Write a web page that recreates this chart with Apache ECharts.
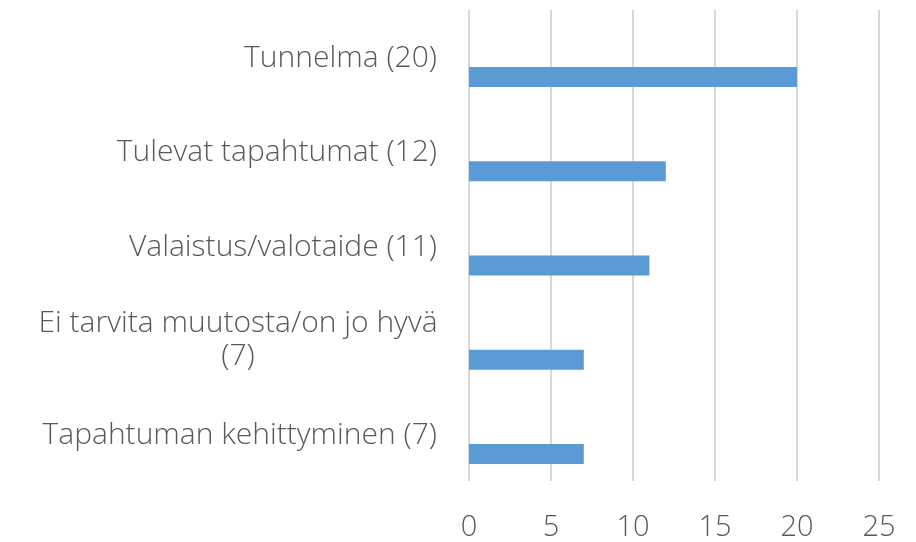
<!DOCTYPE html>
<html>
<head>
<meta charset="utf-8">
<script src="https://cdn.jsdelivr.net/npm/echarts@6/dist/echarts.min.js"></script>
<style>
  html, body { margin: 0; padding: 0; background: #fff; }
  #chart { width: 916px; height: 542px; }
</style>
</head>
<body>
<div id="chart"></div>
<script>
// kategoriat ylhäältä alas
const categories = [
    'Tunnelma (20)',
    'Tulevat tapahtumat (12)',
    'Valaistus/valotaide (11)',
    'Ei tarvita muutosta/on jo hyvä\n(7)',
    'Tapahtuman kehittyminen (7)'
];
const values = [20, 12, 11, 7, 7];
// tyhjä sarja, joka siirtää palkit kaistan alaosaan (kuten Excelissä)
const emptyValues = [null, null, null, null, null];
const xTicks = [0, 5, 10, 15, 20, 25];

const textColor = '#595959';
const fontFamily = '"Open Sans", Roboto, sans-serif';

const chart = echarts.init(document.getElementById('chart'), null, { renderer: 'canvas' });

chart.setOption({
    animation: false,
    grid: {
        left: 469,
        right: 37,
        top: 10,
        bottom: 56,
        containLabel: false
    },
    xAxis: {
        type: 'value',
        min: xTicks[0],
        max: xTicks[xTicks.length - 1],
        interval: xTicks[1] - xTicks[0],
        axisLine: { show: false },
        axisTick: { show: false },
        splitLine: { show: true, lineStyle: { color: '#d9d9d9', width: 2 } },
        axisLabel: {
            color: textColor,
            fontFamily: fontFamily,
            fontWeight: 300,
            fontSize: 29,
            margin: 32
        }
    },
    yAxis: {
        type: 'category',
        inverse: true,
        data: categories,
        axisLine: { show: false },
        axisTick: { show: false },
        axisLabel: {
            color: textColor,
            fontFamily: fontFamily,
            fontWeight: 300,
            fontSize: 30,
            lineHeight: 33,
            margin: 32,
            align: 'right',
            formatter: function (value) {
                if (value.indexOf('\n') >= 0) {
                    return value.split('\n').map(s => '{c|' + s + '}').join('\n');
                }
                return '{n|' + value + '}';
            },
            rich: {
                n: {
                    color: textColor,
                    fontFamily: fontFamily,
                    fontWeight: 300,
                    fontSize: 30,
                    padding: [3, 0, 0, 0]
                },
                c: {
                    width: 398,
                    align: 'center',
                    color: textColor,
                    fontFamily: fontFamily,
                    fontWeight: 300,
                    fontSize: 30,
                    lineHeight: 33
                }
            }
        }
    },
    series: [
        {
            type: 'bar',
            data: emptyValues,
            barWidth: 20,
            barGap: '100%',
            silent: true
        },
        {
            type: 'bar',
            data: values,
            barWidth: 20,
            itemStyle: { color: '#5b9bd5' }
        }
    ]
});
</script>
</body>
</html>
